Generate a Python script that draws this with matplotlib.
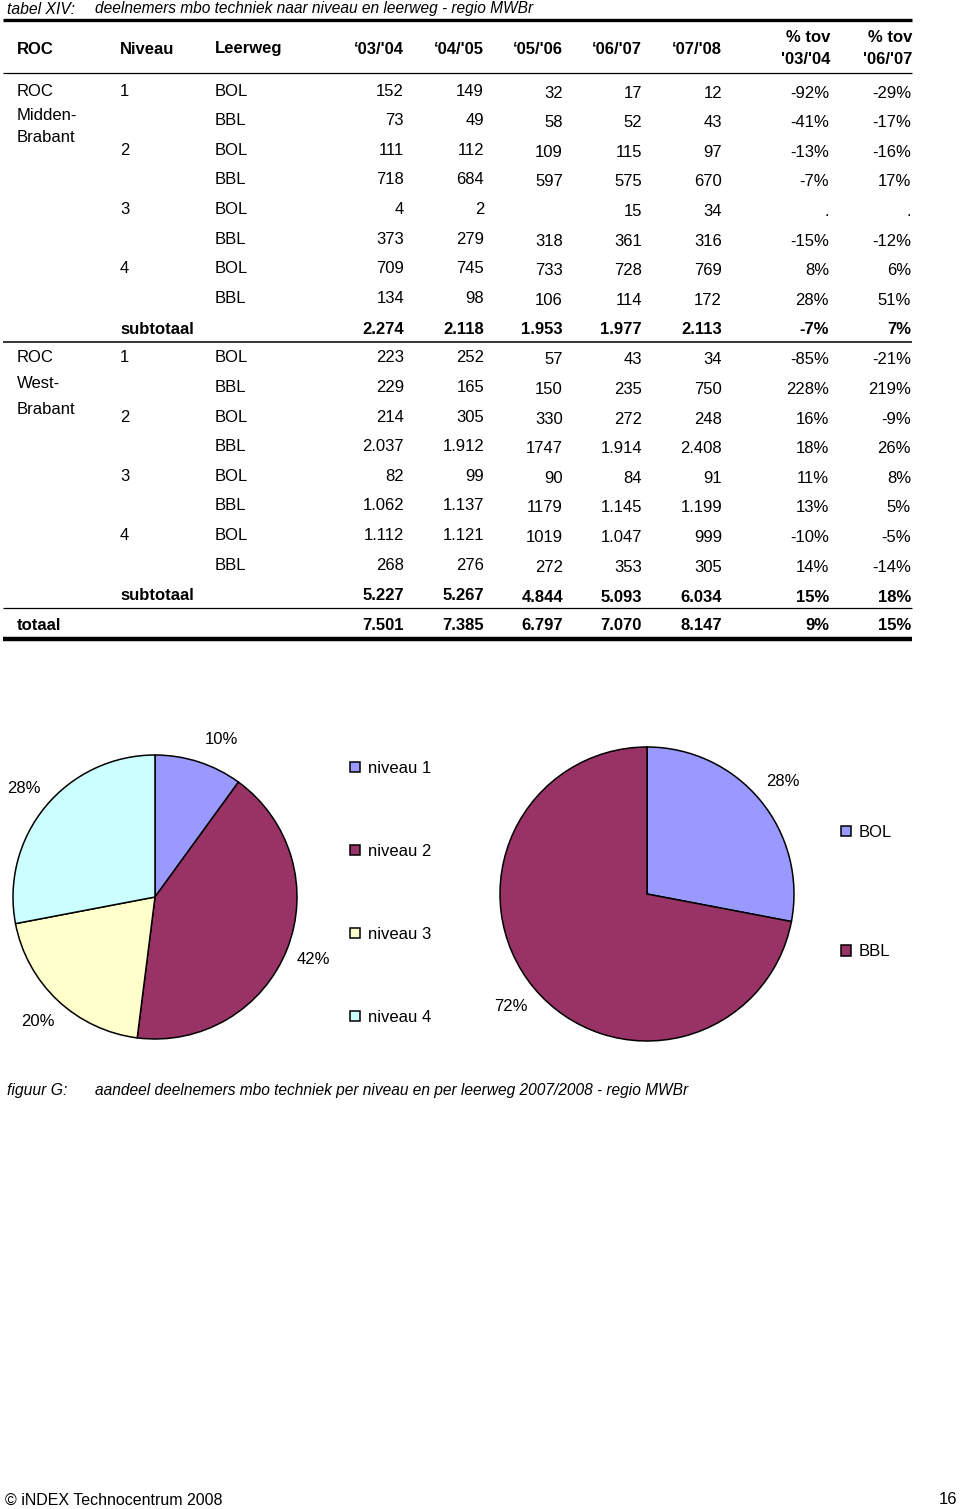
import matplotlib
matplotlib.use("Agg")
import matplotlib.pyplot as plt

plt.rcParams["font.family"] = ["Liberation Sans", "DejaVu Sans"]

W, H = 960, 1509
FS = 12

# --- table data (tabel XIV) ---
headers = ["ROC", "Niveau", "Leerweg", "‘03/'04", "‘04/'05", "‘05/'06", "‘06/'07", "‘07/'08"]
pct_headers = [("% tov", "'03/'04"), ("% tov", "'06/'07")]
niveaus = ["1", "", "2", "", "3", "", "4", ""]
leerweg = ["BOL", "BBL"] * 4

mb_0304 = ["152", "73", "111", "718", "4", "373", "709", "134"]
mb_0405 = ["149", "49", "112", "684", "2", "279", "745", "98"]
mb_0506 = ["32", "58", "109", "597", "", "318", "733", "106"]
mb_0607 = ["17", "52", "115", "575", "15", "361", "728", "114"]
mb_0708 = ["12", "43", "97", "670", "34", "316", "769", "172"]
mb_p0304 = ["-92%", "-41%", "-13%", "-7%", ".", "-15%", "8%", "28%"]
mb_p0607 = ["-29%", "-17%", "-16%", "17%", ".", "-12%", "6%", "51%"]
mb_sub = ["2.274", "2.118", "1.953", "1.977", "2.113", "-7%", "7%"]

wb_0304 = ["223", "229", "214", "2.037", "82", "1.062", "1.112", "268"]
wb_0405 = ["252", "165", "305", "1.912", "99", "1.137", "1.121", "276"]
wb_0506 = ["57", "150", "330", "1747", "90", "1179", "1019", "272"]
wb_0607 = ["43", "235", "272", "1.914", "84", "1.145", "1.047", "353"]
wb_0708 = ["34", "750", "248", "2.408", "91", "1.199", "999", "305"]
wb_p0304 = ["-85%", "228%", "16%", "18%", "11%", "13%", "-10%", "14%"]
wb_p0607 = ["-21%", "219%", "-9%", "26%", "8%", "5%", "-5%", "-14%"]
wb_sub = ["5.227", "5.267", "4.844", "5.093", "6.034", "15%", "18%"]

totaal = ["7.501", "7.385", "6.797", "7.070", "8.147", "9%", "15%"]

# --- pie data (figuur G) ---
niv_labels = ["niveau 1", "niveau 2", "niveau 3", "niveau 4"]
niv_share = [10, 42, 20, 28]
niv_colors = ["#9999FF", "#993366", "#FFFFCC", "#CCFFFF"]
lw_labels = ["BOL", "BBL"]
lw_share = [28, 72]
lw_colors = ["#9999FF", "#993366"]

fig = plt.figure(figsize=(W / 100, H / 100), dpi=100)
page = fig.add_axes([0, 0, 1, 1])
page.set_xlim(0, W)
page.set_ylim(H, 0)
page.axis("off")


def t(x, y, s, ha="left", **kw):
    page.text(x, y, s, ha=ha, va="center", fontsize=kw.pop("fs", FS), **kw)


def hline(y, lw, x0=3, x1=912):
    page.plot([x0, x1], [y, y], color="black", lw=lw, solid_capstyle="butt")


# title
t(7, 9, "tabel XIV:", style="italic", fs=11.3)
t(95, 9, "deelnemers mbo techniek naar niveau en leerweg - regio MWBr", style="italic", fs=11.2)
hline(20, 2.4)

col_right = [404, 484, 563, 642, 722, 829, 911]
t(17, 49, headers[0], weight="bold")
t(120, 49, headers[1], weight="bold")
t(215, 49, headers[2], weight="bold")
for xr, h in zip(col_right[:5], headers[3:]):
    t(xr, 49, h, ha="right", weight="bold")
for xr, (a, b) in zip(col_right[5:], pct_headers):
    t(xr + 1, 38, a, ha="right", weight="bold")
    t(xr + 1, 60, b, ha="right", weight="bold")
hline(73, 0.9)


def block(y0, roc_lines, roc_dy, cols, sub):
    ys = [y0 + i * 29.6 for i in range(8)]
    for s, dy in zip(roc_lines, roc_dy):
        t(17, y0 + dy, s)
    for y, n, l in zip(ys, niveaus, leerweg):
        if n:
            t(120, y, n)
        t(215, y, l)
    for j, col in enumerate(cols):
        off = 0 if j < 2 else 2
        for y, v in zip(ys, col):
            if v:
                t(col_right[j], y + off, v, ha="right")
    ysub = y0 + 238
    t(120, ysub, "subtotaal", weight="bold")
    for j, v in enumerate(sub):
        t(col_right[j], ysub + (0 if j < 2 else 1), v, ha="right", weight="bold")


block(91, ["ROC", "Midden-", "Brabant"], [0, 25, 47],
      [mb_0304, mb_0405, mb_0506, mb_0607, mb_0708, mb_p0304, mb_p0607], mb_sub)
hline(342, 1.1)
block(358, ["ROC", "West-", "Brabant"], [0, 26, 52],
      [wb_0304, wb_0405, wb_0506, wb_0607, wb_0708, wb_p0304, wb_p0607], wb_sub)
hline(608, 0.9)
t(17, 626, "totaal", weight="bold")
for xr, v in zip(col_right, totaal):
    t(xr, 626, v, ha="right", weight="bold")
hline(639, 3.2)


def pie_axes(cx, cy, r):
    ax = fig.add_axes([(cx - r) / W, 1 - (cy + r) / H, 2 * r / W, 2 * r / H])
    return ax


ax1 = pie_axes(155, 897, 142)
w1, txt1 = ax1.pie(niv_share, colors=niv_colors, startangle=90, counterclock=False,
                   labels=[f"{v}%" for v in niv_share], labeldistance=1.2,
                   wedgeprops=dict(edgecolor="black", linewidth=1.1),
                   textprops=dict(fontsize=FS, ha="center", va="center"))
ax1.set_xlim(-1, 1)
ax1.set_ylim(-1, 1)
ax1.axis("off")
# Excel nudged the small-slice label a little to the right
txt1[0].set_position((0.47, 1.11))

ax2 = pie_axes(647, 894, 147)
w2, _ = ax2.pie(lw_share, colors=lw_colors, startangle=90, counterclock=False,
                labels=[f"{v}%" for v in lw_share], labeldistance=1.2,
                wedgeprops=dict(edgecolor="black", linewidth=1.1),
                textprops=dict(fontsize=FS, ha="center", va="center"))
ax2.set_xlim(-1, 1)
ax2.set_ylim(-1, 1)
ax2.axis("off")

fig.legend(w1, niv_labels, loc="upper left", bbox_to_anchor=(350 / W, 1 - 761 / H),
           frameon=False, fontsize=FS, borderpad=0, labelspacing=4.08,
           handlelength=0.6, handleheight=0.6, handletextpad=0.45, borderaxespad=0)
fig.legend(w2, lw_labels, loc="upper left", bbox_to_anchor=(841 / W, 1 - 825 / H),
           frameon=False, fontsize=FS, borderpad=0, labelspacing=6.25,
           handlelength=0.6, handleheight=0.6, handletextpad=0.45, borderaxespad=0)

# caption and footer
t(7, 1090, "figuur G:", style="italic", fs=11.3)
t(95, 1090, "aandeel deelnemers mbo techniek per niveau en per leerweg 2007/2008 - regio MWBr",
  style="italic", fs=11.2)
t(5, 1500, "© iNDEX Technocentrum 2008", fs=11.5)
t(957, 1500, "16", ha="right")

fig.savefig("out.png", dpi=100)
